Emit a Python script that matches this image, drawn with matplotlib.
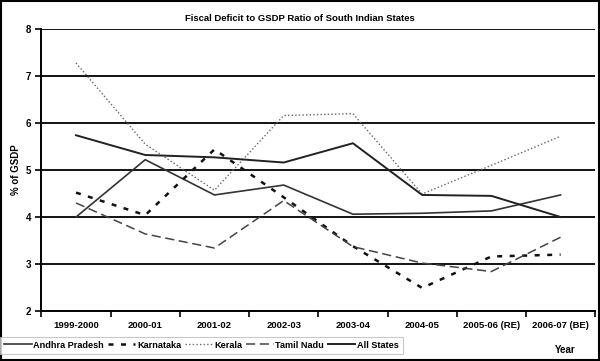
import matplotlib
matplotlib.use("Agg")
import matplotlib.pyplot as plt
from matplotlib.patches import Rectangle

years = ["1999-2000", "2000-01", "2001-02", "2002-03", "2003-04", "2004-05", "2005-06 (RE)", "2006-07 (BE)"]
andhra = [4.00, 5.22, 4.47, 4.68, 4.06, 4.08, 4.13, 4.47]
karnataka = [4.52, 4.04, 5.44, 4.42, 3.38, 2.49, 3.16, 3.20]
kerala = [7.28, 5.55, 4.57, 6.16, 6.20, 4.49, 5.10, 5.72]
tamil = [4.30, 3.64, 3.34, 4.35, 3.37, 3.02, 2.84, 3.57]
all_states = [5.74, 5.32, 5.27, 5.16, 5.57, 4.47, 4.45, 4.00]

plt.rcParams['font.family'] = ['Liberation Sans', 'DejaVu Sans']
plt.rcParams['font.weight'] = 'bold'

fig = plt.figure(figsize=(6.0, 3.61), dpi=100)
ax = fig.add_axes([0.069, 0.1385, 0.923, 0.781])
x = list(range(len(years)))

for yv in [3, 4, 5, 6, 7, 8]:
    ax.axhline(yv, color='black', lw=1.3, zorder=1)

ax.plot(x, andhra, color='#333333', lw=1.2, ls='-', label='Andhra Pradesh', zorder=3)
ax.plot(x, karnataka, color='#111111', lw=1.8, ls=(0, (2.0, 3.0)), label='Karnataka', zorder=3)
ax.plot(x, kerala, color='#666666', lw=1.0, ls=(0, (1.0, 1.6)), label='Kerala', zorder=3)
ax.plot(x, tamil, color='#444444', lw=1.1, ls=(0, (6, 3)), label='Tamil Nadu', zorder=3)
ax.plot(x, all_states, color='#222222', lw=1.4, ls='-', label='All States', zorder=3)

ax.set_xlim(-0.5, len(years) - 0.5)
ax.set_ylim(2, 8)
ax.set_yticks([2, 3, 4, 5, 6, 7, 8])
ax.set_xticks([i + 0.5 for i in range(-1, len(years))], minor=False)
ax.set_xticklabels([])
ax.set_xticks(x, minor=True)
ax.set_xticklabels(years, minor=True, fontsize=6.8, fontweight='bold')
ax.tick_params(axis='x', which='minor', length=0, pad=7)
ax.tick_params(axis='x', which='major', length=4, width=1.2, direction='out')
ax.tick_params(axis='y', length=4, width=1.2, labelsize=7, direction='out')
for s in ['top', 'right']:
    ax.spines[s].set_visible(False)
ax.spines['left'].set_linewidth(1.4)
ax.spines['bottom'].set_linewidth(1.4)

ax.set_ylabel('% of GSDP', fontsize=7, fontweight='bold')
ax.yaxis.set_label_coords(-0.036, 0.5)
fig.text(0.5, 0.948, 'Fiscal Deficit to GSDP Ratio of South Indian States',
         ha='center', va='center', fontsize=6.8, fontweight='bold')
fig.text(0.942, 0.03, 'Year', ha='center', va='center', fontsize=7, fontweight='bold')

leg = fig.legend(loc='lower left', bbox_to_anchor=(0.0, 0.02), ncol=5, fontsize=6.6,
                 frameon=True, fancybox=False, handlelength=3.0, handletextpad=0.2,
                 columnspacing=0.4, borderpad=0.45, borderaxespad=0)
leg.get_frame().set_edgecolor('#bbbbbb')
leg.get_frame().set_linewidth(0.8)

fig.patches.append(Rectangle((0.002, 0.003), 0.996, 0.994, transform=fig.transFigure,
                             fill=False, edgecolor='black', lw=1.5))

fig.savefig('out.png', dpi=100)
